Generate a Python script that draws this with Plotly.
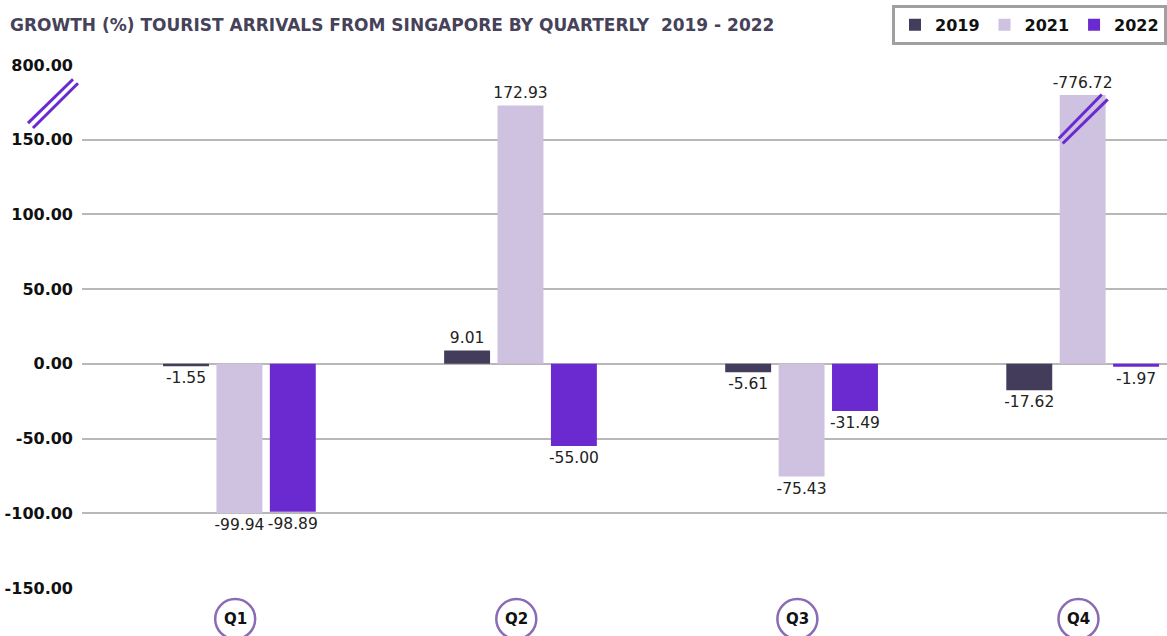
import plotly.graph_objects as go

categories = ["Q1", "Q2", "Q3", "Q4"]
years = ["2019", "2021", "2022"]
# bar heights as drawn (Q4 2021 is drawn cut at the axis break)
values_2019 = [-1.55, 9.01, -5.61, -17.62]
values_2021 = [-99.94, 172.93, -75.43, 180.0]
values_2022 = [-98.89, -55.00, -31.49, -1.97]
labels_2019 = ["-1.55", "9.01", "-5.61", "-17.62"]
labels_2021 = ["-99.94", "172.93", "-75.43", "-776.72"]
labels_2022 = ["-98.89", "-55.00", "-31.49", "-1.97"]
tick_vals = [-150, -100, -50, 0, 50, 100, 150, 200]
tick_text = ["-150.00", "-100.00", "-50.00", "0.00", "50.00", "100.00", "150.00", "800.00"]

colors = {"2019": "#433c5a", "2021": "#cec2e0", "2022": "#6a2ad0"}
FONT = "DejaVu Sans"

fig = go.Figure()
for yr, vals, labs in [("2019", values_2019, labels_2019),
                       ("2021", values_2021, labels_2021),
                       ("2022", values_2022, labels_2022)]:
    fig.add_trace(go.Bar(
        name=yr, x=categories, y=vals, text=labs,
        textposition="outside", texttemplate="%{text}", constraintext="none",
        textfont=dict(family=FONT, size=15.5, color="#222222"),
        marker=dict(color=colors[yr], line=dict(width=0)),
        cliponaxis=False,
    ))

fig.update_layout(
    width=1167, height=636,
    margin=dict(l=82, r=0, t=65, b=48),
    plot_bgcolor="white", paper_bgcolor="white",
    barmode="group", bargap=0.43, bargroupgap=0.14,
    title=dict(text="GROWTH (%) TOURIST ARRIVALS FROM SINGAPORE BY QUARTERLY  2019 - 2022",
               x=0.0086, xanchor="left", y=0.961, yanchor="middle",
               font=dict(family=FONT, size=17, color="#46425a", weight="bold")),
    legend=dict(orientation="h", x=1, xanchor="right", y=1.115, yanchor="top",
                bordercolor="#a0a0a0", borderwidth=3, bgcolor="white",
                font=dict(family=FONT, size=16, color="#111111", weight="bold"),
                traceorder="normal"),
    showlegend=True,
)
fig.update_xaxes(range=[-0.56, 3.3], showticklabels=False, showgrid=False,
                 zeroline=False, showline=False, ticks="")
fig.update_yaxes(range=[-150, 200], tickvals=tick_vals, ticktext=tick_text,
                 showgrid=True, gridcolor="#b8b8b8", gridwidth=1.5,
                 zeroline=True, zerolinecolor="#b8b8b8", zerolinewidth=1.5,
                 tickfont=dict(family=FONT, size=16, color="#111111", weight="bold"),
                 ticks="", ticklabelstandoff=8)

# Quarter labels in circles
for i, q in enumerate(categories):
    fig.add_shape(type="circle", xref="x", yref="paper", xsizemode="pixel", ysizemode="pixel",
                  xanchor=i - 0.015, yanchor=-0.0593, x0=-20, x1=20, y0=-20, y1=20,
                  line=dict(color="#8a6bb5", width=2.5), fillcolor="white", layer="above")
    fig.add_annotation(x=i - 0.015, y=-0.0593, xref="x", yref="paper", text=q, showarrow=False,
                       xanchor="center", yanchor="middle",
                       font=dict(family=FONT, size=15, color="#111111", weight="bold"))

brk = dict(color="#6a2ad0", width=3)
# axis break marks
for x0, y0, x1, y1 in [(-0.0498, 161.1, -0.0083, 190.5), (-0.0452, 157.8, -0.0037, 187.8)]:
    fig.add_shape(type="line", xref="paper", yref="y", x0=x0, y0=y0, x1=x1, y1=y1, line=brk)
# bar break marks on Q4 2021
for x0, y0, x1, y1 in [(2.915, 150.8, 3.068, 180.3), (2.929, 147.5, 3.089, 177.0)]:
    fig.add_shape(type="line", xref="x", yref="y", x0=x0, y0=y0, x1=x1, y1=y1, line=brk)

fig.write_html("out.html", config={"displayModeBar": False},
               post_script="document.body.style.margin='0';document.body.style.overflow='hidden';")
